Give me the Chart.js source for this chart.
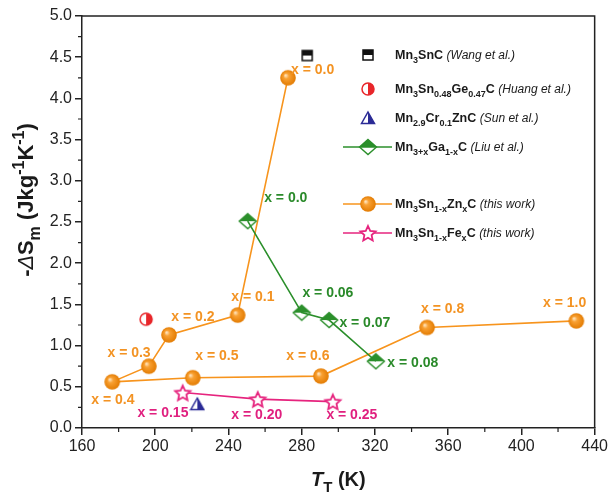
<!DOCTYPE html>
<html>
<head>
<meta charset="utf-8">
<script src="https://cdn.jsdelivr.net/npm/chart.js@4.4.1/dist/chart.umd.min.js"></script>
<style>
  html, body { margin: 0; padding: 0; background: #fff; }
  #wrap { width: 610px; height: 496px; }
</style>
</head>
<body>
<div id="wrap"><canvas id="myChart"></canvas></div>
<script>
// Mn3Sn1-xZnxC (this work), in line order
const znX = ['0.0', '0.1', '0.2', '0.3', '0.4', '0.5', '0.6', '0.8', '1.0'];
const znT = [272.5, 245, 207.5, 196.5, 176.5, 220.5, 290.5, 348.5, 430];
const znS = [4.25, 1.37, 1.13, 0.75, 0.56, 0.61, 0.63, 1.22, 1.30];
// Mn3Sn1-xFexC (this work)
const feX = ['0.15', '0.20', '0.25'];
const feT = [215, 256, 297];
const feS = [0.43, 0.35, 0.32];
// Mn3+xGa1-xC (Liu et al.)
const gaX = ['0.0', '0.06', '0.07', '0.08'];
const gaT = [250.5, 280, 295, 320.5];
const gaS = [2.51, 1.40, 1.31, 0.81];
// single literature points
const wangT = [283], wangS = [4.52];
const huangT = [195], huangS = [1.32];
const sunT = [223], sunS = [0.29];

// where the "x = ..." labels sit, in axis units [T, S]
const znLabelAt = [[286, 4.34], [253.3, 1.59], [220.6, 1.35], [185.7, 0.91], [176.9, 0.34], [233.7, 0.87], [283.4, 0.87], [357, 1.44], [423.6, 1.52]];
const feLabelAt = [[204.2, 0.18], [255.5, 0.16], [307.4, 0.16]];
const gaLabelAt = [[271.3, 2.79], [294.3, 1.64], [314.5, 1.27], [340.7, 0.79]];

const xTicks = [160, 200, 240, 280, 320, 360, 400, 440];

const ORANGE = '#f7941d', GREEN = '#2b8f2b', PINK = '#e6247e';
const FONT = '"Liberation Sans", Arial, sans-serif';

function makeCanvas(w, h, draw) {
  const c = document.createElement('canvas');
  c.width = w; c.height = h;
  draw(c.getContext('2d'), w / 2, h / 2);
  return c;
}

const ball = makeCanvas(18, 18, (ctx, cx, cy) => {
  const g = ctx.createRadialGradient(cx - 2.5, cy - 2.5, 0.5, cx, cy, 8);
  g.addColorStop(0, '#ffe2b8');
  g.addColorStop(0.3, '#f9a133');
  g.addColorStop(1, '#e27a00');
  ctx.fillStyle = g;
  ctx.beginPath(); ctx.arc(cx, cy, 7.8, 0, Math.PI * 2); ctx.fill();
});

const star = makeCanvas(20, 20, (ctx, cx, cy) => {
  ctx.beginPath();
  for (let i = 0; i < 10; i++) {
    const r = i % 2 ? 3.8 : 8;
    const a = -Math.PI / 2 + i * Math.PI / 5;
    ctx.lineTo(cx + r * Math.cos(a), cy + 1 + r * Math.sin(a));
  }
  ctx.closePath();
  ctx.fillStyle = '#fff'; ctx.fill();
  ctx.strokeStyle = PINK; ctx.lineWidth = 1.8; ctx.stroke();
});

const diamond = makeCanvas(20, 18, (ctx, cx, cy) => {
  ctx.beginPath();
  ctx.moveTo(cx, cy - 7.5); ctx.lineTo(cx + 8.5, cy); ctx.lineTo(cx - 8.5, cy); ctx.closePath();
  ctx.fillStyle = GREEN; ctx.fill();
  ctx.beginPath();
  ctx.moveTo(cx, cy - 7.5); ctx.lineTo(cx + 8.5, cy); ctx.lineTo(cx, cy + 7.5); ctx.lineTo(cx - 8.5, cy); ctx.closePath();
  ctx.strokeStyle = GREEN; ctx.lineWidth = 1.4; ctx.stroke();
});

const square = makeCanvas(14, 14, (ctx, cx, cy) => {
  ctx.fillStyle = '#fff'; ctx.fillRect(cx - 5, cy - 5, 10, 10);
  ctx.fillStyle = '#111'; ctx.fillRect(cx - 5, cy - 5, 10, 5);
  ctx.strokeStyle = '#111'; ctx.lineWidth = 1.5; ctx.strokeRect(cx - 5, cy - 5, 10, 10);
});

const halfCircle = makeCanvas(16, 16, (ctx, cx, cy) => {
  ctx.fillStyle = '#fff';
  ctx.beginPath(); ctx.arc(cx, cy, 6, 0, Math.PI * 2); ctx.fill();
  ctx.fillStyle = '#e8262a';
  ctx.beginPath(); ctx.arc(cx, cy, 6, -Math.PI / 2, Math.PI / 2); ctx.closePath(); ctx.fill();
  ctx.strokeStyle = '#e8262a'; ctx.lineWidth = 1.5;
  ctx.beginPath(); ctx.arc(cx, cy, 6, 0, Math.PI * 2); ctx.stroke();
});

const halfTriangle = makeCanvas(16, 16, (ctx, cx, cy) => {
  ctx.fillStyle = '#2b2b96';
  ctx.beginPath(); ctx.moveTo(cx, cy - 6); ctx.lineTo(cx + 6.5, cy + 5.5); ctx.lineTo(cx, cy + 5.5); ctx.closePath(); ctx.fill();
  ctx.beginPath(); ctx.moveTo(cx, cy - 6); ctx.lineTo(cx + 6.5, cy + 5.5); ctx.lineTo(cx - 6.5, cy + 5.5); ctx.closePath();
  ctx.strokeStyle = '#2b2b96'; ctx.lineWidth = 1.5; ctx.stroke();
});

const pts = (xs, ys) => xs.map((x, i) => ({ x: x, y: ys[i] }));

// draw text pieces: [text, kind] kind: b bold, i italic, bi bold italic, sub, sup
function drawRich(ctx, x, y, parts, size, align) {
  const fontFor = k => {
    if (k === 'sub' || k === 'sup') return 'bold ' + Math.round(size * 0.74) + 'px ' + FONT;
    if (k === 'i') return 'italic ' + (size - 0.5) + 'px ' + FONT;
    if (k === 'bi') return 'italic bold ' + size + 'px ' + FONT;
    return 'bold ' + size + 'px ' + FONT;
  };
  let total = 0;
  parts.forEach(p => { ctx.font = fontFor(p[1]); total += ctx.measureText(p[0]).width; });
  let cx = align === 'center' ? x - total / 2 : x;
  ctx.textAlign = 'left';
  ctx.textBaseline = 'alphabetic';
  parts.forEach(p => {
    ctx.font = fontFor(p[1]);
    let dy = 0;
    if (p[1] === 'sub') dy = size * 0.3;
    if (p[1] === 'sup') dy = -size * 0.4;
    ctx.fillText(p[0], cx, y + dy);
    cx += ctx.measureText(p[0]).width;
  });
}

const legendRows = [
  { y: 55, icon: square, text: [['Mn', 'b'], ['3', 'sub'], ['SnC ', 'b'], ['(Wang et al.)', 'i']] },
  { y: 89, icon: halfCircle, text: [['Mn', 'b'], ['3', 'sub'], ['Sn', 'b'], ['0.48', 'sub'], ['Ge', 'b'], ['0.47', 'sub'], ['C ', 'b'], ['(Huang et al.)', 'i']] },
  { y: 118, icon: halfTriangle, text: [['Mn', 'b'], ['2.9', 'sub'], ['Cr', 'b'], ['0.1', 'sub'], ['ZnC ', 'b'], ['(Sun et al.)', 'i']] },
  { y: 147, icon: diamond, line: GREEN, text: [['Mn', 'b'], ['3+x', 'sub'], ['Ga', 'b'], ['1-x', 'sub'], ['C ', 'b'], ['(Liu et al.)', 'i']] },
  { y: 204, icon: ball, line: ORANGE, text: [['Mn', 'b'], ['3', 'sub'], ['Sn', 'b'], ['1-x', 'sub'], ['Zn', 'b'], ['x', 'sub'], ['C ', 'b'], ['(this work)', 'i']] },
  { y: 233, icon: star, line: PINK, text: [['Mn', 'b'], ['3', 'sub'], ['Sn', 'b'], ['1-x', 'sub'], ['Fe', 'b'], ['x', 'sub'], ['C ', 'b'], ['(this work)', 'i']] }
];

const overlay = {
  id: 'overlay',
  afterDatasetsDraw(chart) {
    const ctx = chart.ctx, xs = chart.scales.x, ys = chart.scales.y;
    ctx.save();
    const put = (names, at, color) => {
      ctx.fillStyle = color;
      ctx.font = 'bold 14px ' + FONT;
      ctx.textAlign = 'center';
      ctx.textBaseline = 'middle';
      names.forEach((n, i) => {
        ctx.fillText('x = ' + n, xs.getPixelForValue(at[i][0]), ys.getPixelForValue(at[i][1]));
      });
    };
    put(znX, znLabelAt, '#f39323');
    put(gaX, gaLabelAt, '#2a8a2a');
    put(feX, feLabelAt, '#e0207f');
    ctx.restore();
  },
  afterDraw(chart) {
    const ctx = chart.ctx, a = chart.chartArea, xs = chart.scales.x, ys = chart.scales.y;
    ctx.save();
    ctx.strokeStyle = '#222';
    ctx.lineWidth = 1.5;
    // top and right frame
    ctx.beginPath();
    ctx.moveTo(a.left, a.top); ctx.lineTo(a.right, a.top); ctx.lineTo(a.right, a.bottom);
    ctx.stroke();
    // minor ticks
    ctx.lineWidth = 1.2;
    ctx.beginPath();
    for (let v = 0.25; v < 5; v += 0.5) {
      const py = ys.getPixelForValue(v);
      ctx.moveTo(a.left, py); ctx.lineTo(a.left - 4, py);
    }
    for (let v = 180; v < 440; v += 40) {
      const px = xs.getPixelForValue(v);
      ctx.moveTo(px, a.bottom); ctx.lineTo(px, a.bottom + 4);
    }
    ctx.stroke();

    // legend
    legendRows.forEach(r => {
      if (r.line) {
        ctx.strokeStyle = r.line; ctx.lineWidth = 1.6;
        ctx.beginPath(); ctx.moveTo(343, r.y); ctx.lineTo(392, r.y); ctx.stroke();
      }
      ctx.drawImage(r.icon, 368 - r.icon.width / 2, r.y - r.icon.height / 2);
      ctx.fillStyle = '#1a1a1a';
      drawRich(ctx, 395, r.y + 4, r.text, 12.5, 'left');
    });

    // axis titles
    ctx.fillStyle = '#1a1a1a';
    drawRich(ctx, (a.left + a.right) / 2, 486, [['T', 'bi'], ['T', 'sub'], [' (K)', 'b']], 20, 'center');
    ctx.translate(33, 200);
    ctx.rotate(-Math.PI / 2);
    drawRich(ctx, 0, 0, [['-', 'b'], ['\u0394', 'i'], ['S', 'b'], ['m', 'sub'], [' (Jkg', 'b'], ['-1', 'sup'], ['K', 'b'], ['-1', 'sup'], [')', 'b']], 22, 'center');
    ctx.restore();
  }
};

const config = {
  type: 'scatter',
  data: {
    datasets: [
      { label: 'Mn3SnC (Wang et al.)', data: pts(wangT, wangS), pointStyle: square, pointRadius: 6 },
      { label: 'Mn3Sn0.48Ge0.47C (Huang et al.)', data: pts(huangT, huangS), pointStyle: halfCircle, pointRadius: 6 },
      { label: 'Mn2.9Cr0.1ZnC (Sun et al.)', data: pts(sunT, sunS), pointStyle: halfTriangle, pointRadius: 6 },
      { label: 'Mn3+xGa1-xC (Liu et al.)', data: pts(gaT, gaS), showLine: true, borderColor: GREEN, borderWidth: 1.6, pointStyle: diamond, pointRadius: 8 },
      { label: 'Mn3Sn1-xFexC (this work)', data: pts(feT, feS), showLine: true, borderColor: PINK, borderWidth: 1.6, pointStyle: star, pointRadius: 8 },
      { label: 'Mn3Sn1-xZnxC (this work)', data: pts(znT, znS), showLine: true, borderColor: ORANGE, borderWidth: 1.6, pointStyle: ball, pointRadius: 8 }
    ]
  },
  options: {
    animation: false,
    responsive: true,
    maintainAspectRatio: false,
    layout: { padding: { left: 0, top: 16, right: 15, bottom: 0 } },
    plugins: { legend: { display: false }, tooltip: { enabled: false } },
    scales: {
      x: {
        type: 'linear', min: 160, max: 440,
        afterBuildTicks: s => { s.ticks = xTicks.map(v => ({ value: v })); },
        ticks: { font: { family: FONT, size: 16 }, color: '#222', padding: 2, maxRotation: 0 },
        grid: { drawOnChartArea: false, tickLength: 7, color: '#222', lineWidth: 1.5 },
        border: { display: true, color: '#222', width: 1.5 },
        afterFit: s => { s.height = 68; }
      },
      y: {
        min: 0, max: 5,
        ticks: { stepSize: 0.5, callback: v => v.toFixed(1), font: { family: FONT, size: 16 }, color: '#222', padding: 3 },
        grid: { drawOnChartArea: false, tickLength: 7, color: '#222', lineWidth: 1.5 },
        border: { display: true, color: '#222', width: 1.5 },
        afterFit: s => { s.width = 82; }
      }
    }
  },
  plugins: [overlay]
};

const myChart = new Chart(document.getElementById('myChart'), config);
</script>
</body>
</html>
